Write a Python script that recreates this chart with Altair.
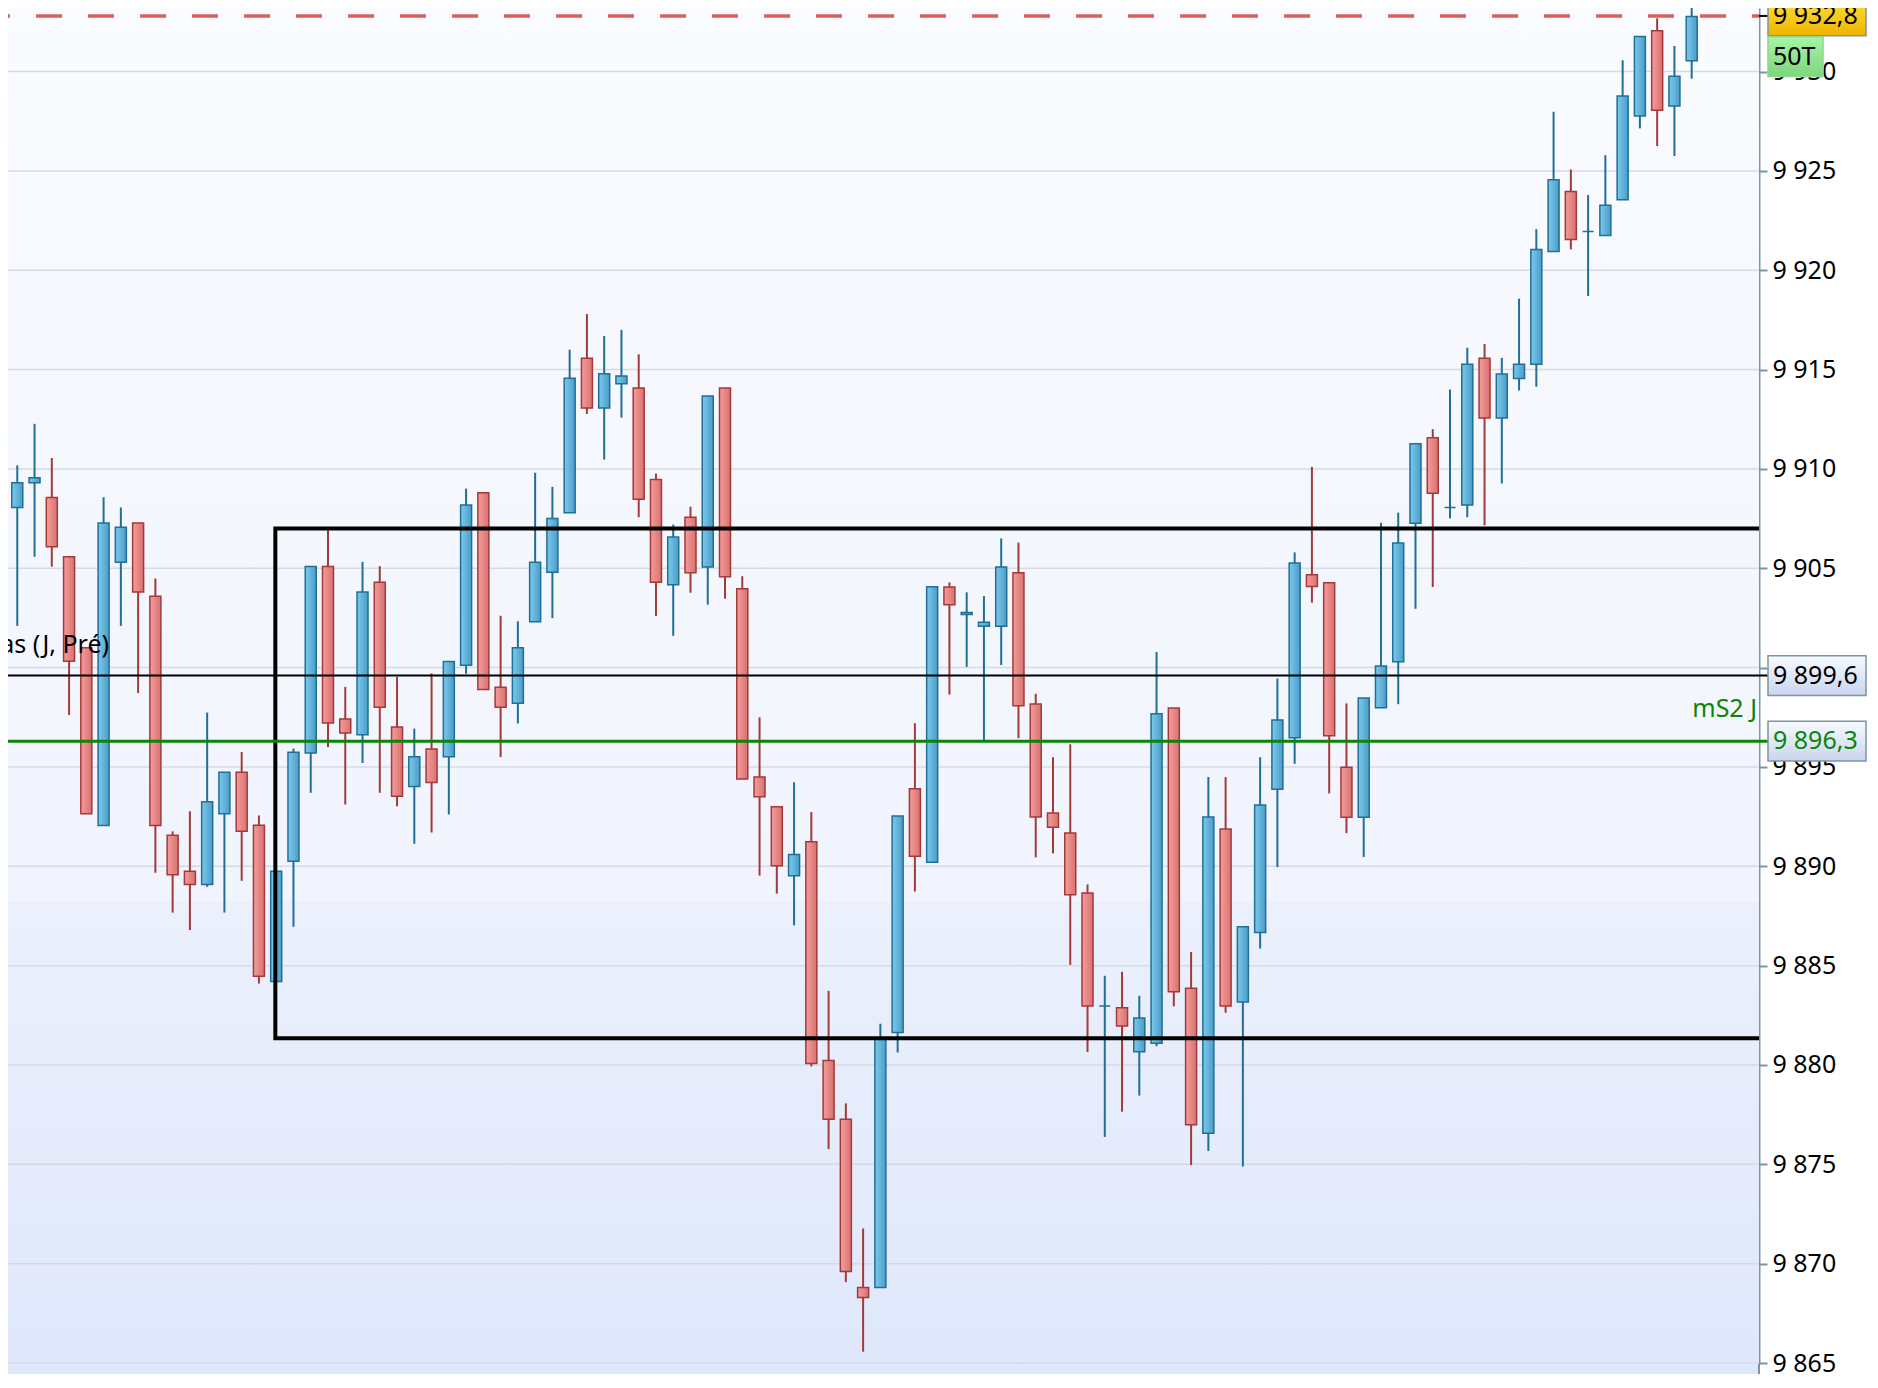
import altair as alt
import pandas as pd

# ---------------- data ----------------
opens = [9897.9, 9908.06, 9909.3, 9908.56, 9905.58, 9901.0, 9892.06, 9905.3, 9907.28, 9903.59,
         9891.56, 9889.75, 9889.08, 9892.65, 9894.74, 9892.06, 9884.2, 9890.25, 9895.7, 9905.09,
         9897.42, 9896.62, 9904.3, 9897.01, 9894.02, 9895.91, 9895.52, 9900.12, 9908.8, 9899.01,
         9898.21, 9902.31, 9904.8, 9907.8, 9915.57, 9913.07, 9914.29, 9914.07, 9909.47, 9904.17,
         9907.57, 9905.07, 9914.07, 9903.97, 9894.5, 9893.0, 9889.53, 9891.23, 9880.23, 9877.27,
         9868.8, 9868.8, 9881.63, 9893.9, 9890.2, 9904.06, 9902.68, 9902.08, 9902.08, 9904.78,
         9898.17, 9892.68, 9891.67, 9888.66, 9882.97, 9882.88, 9880.67, 9881.09, 9897.97, 9883.86,
         9876.56, 9891.88, 9883.17, 9886.67, 9893.88, 9896.47, 9904.67, 9904.27, 9894.98, 9892.47,
         9897.98, 9900.29, 9907.27, 9911.57, 9908.06, 9908.18, 9915.57, 9912.57, 9914.55, 9915.27,
         9920.95, 9923.96, 9921.95, 9921.75, 9923.55, 9927.77, 9932.05, 9928.27, 9930.55]
highs = [9909.5, 9910.18, 9912.27, 9910.55, 9905.58, 9901.0, 9908.58, 9908.06, 9907.28, 9904.49,
         9891.76, 9892.77, 9897.74, 9894.74, 9895.75, 9892.56, 9889.75, 9895.93, 9905.09, 9906.93,
         9899.03, 9905.32, 9905.11, 9899.53, 9896.93, 9899.71, 9900.31, 9909.01, 9908.8, 9902.61,
         9902.33, 9909.81, 9909.1, 9916.0, 9917.8, 9916.69, 9917.0, 9915.77, 9909.77, 9907.2,
         9908.1, 9913.67, 9914.07, 9904.6, 9897.5, 9893.0, 9894.23, 9892.73, 9883.73, 9878.07,
         9871.77, 9882.07, 9892.53, 9897.2, 9904.07, 9904.29, 9903.79, 9903.6, 9906.5, 9906.29,
         9898.68, 9895.49, 9896.14, 9889.09, 9884.49, 9884.69, 9883.48, 9900.78, 9897.97, 9885.69,
         9894.49, 9894.49, 9886.96, 9895.49, 9899.45, 9905.8, 9910.1, 9904.27, 9898.2, 9898.47,
         9907.29, 9907.8, 9911.27, 9912.0, 9914.0, 9916.1, 9916.29, 9915.59, 9918.57, 9922.07,
         9927.98, 9925.07, 9923.79, 9925.79, 9930.57, 9931.77, 9932.68, 9931.29, 9933.2]
lows = [9896.5, 9902.1, 9905.58, 9905.08, 9897.62, 9892.65, 9892.06, 9902.1, 9898.72, 9889.68,
        9887.67, 9886.79, 9888.97, 9887.67, 9889.27, 9884.1, 9884.1, 9886.96, 9893.7, 9896.0,
        9893.11, 9895.2, 9893.7, 9893.02, 9891.13, 9891.7, 9892.61, 9899.69, 9898.9, 9895.5,
        9897.19, 9902.31, 9902.49, 9907.8, 9912.77, 9910.47, 9912.58, 9907.57, 9902.6, 9901.6,
        9903.77, 9903.17, 9903.47, 9894.4, 9889.53, 9888.63, 9887.03, 9879.93, 9875.77, 9869.07,
        9865.57, 9868.8, 9880.63, 9888.73, 9890.2, 9898.64, 9900.04, 9896.34, 9900.13, 9896.45,
        9890.45, 9890.65, 9885.04, 9880.65, 9876.38, 9877.65, 9878.46, 9880.94, 9882.95, 9874.96,
        9875.67, 9882.63, 9874.89, 9885.86, 9889.96, 9895.16, 9903.27, 9893.67, 9891.67, 9890.47,
        9897.98, 9898.16, 9902.96, 9904.06, 9907.51, 9907.57, 9907.16, 9909.27, 9913.95, 9914.14,
        9920.95, 9921.05, 9918.7, 9921.75, 9923.55, 9927.14, 9926.25, 9925.75, 9929.64]
closes = [9908.8, 9909.3, 9909.56, 9906.09, 9900.32, 9892.65, 9907.28, 9907.07, 9903.8, 9892.06,
          9889.57, 9889.08, 9893.25, 9894.74, 9891.76, 9884.46, 9889.75, 9895.74, 9905.09, 9897.21,
          9896.71, 9903.81, 9898.01, 9893.52, 9895.52, 9894.22, 9900.31, 9908.19, 9898.9, 9898.01,
          9901.0, 9905.3, 9907.5, 9914.57, 9913.07, 9914.79, 9914.68, 9908.47, 9904.3, 9906.57,
          9904.77, 9913.67, 9904.57, 9894.4, 9893.5, 9890.03, 9890.6, 9880.07, 9877.27, 9869.6,
          9868.3, 9881.33, 9892.53, 9890.5, 9904.07, 9903.17, 9902.77, 9902.28, 9905.07, 9898.08,
          9892.48, 9891.96, 9888.57, 9882.97, 9882.97, 9881.96, 9882.37, 9897.68, 9883.68, 9876.99,
          9892.48, 9882.97, 9886.96, 9893.08, 9897.37, 9905.27, 9904.08, 9896.57, 9892.47, 9898.47,
          9900.08, 9906.27, 9911.27, 9908.78, 9908.06, 9915.27, 9912.57, 9914.78, 9915.27, 9921.05,
          9924.55, 9921.55, 9921.95, 9923.27, 9928.77, 9931.77, 9928.05, 9929.77, 9932.77]

y_ticks = [9865, 9870, 9875, 9880, 9885, 9890, 9895, 9900, 9905, 9910, 9915, 9920, 9925, 9930]

last_price = 9932.8
last_label = "9 932,8"
timeframe_label = "50T"
plus_bas_value = 9899.6
plus_bas_label = "9 899,6"
plus_bas_text = "Plus Bas (J, Pré)"
ms2_value = 9896.3
ms2_label = "9 896,3"
ms2_text = "mS2 J"
range_left_idx = 15.95
range_top = 9907.0
range_bottom = 9881.35
session_split = 9888.2

# ---------------- layout ----------------
W, H = 1751, 1356
Y_MIN, Y_MAX = 9864.95, 9933.2
X_MIN, X_MAX = 0.752, 101.61
FONT = "Noto Sans"
BLUE_EDGE, RED_EDGE = "#1f6f96", "#a33a3a"
AXIS_COL = "#7d95a3"
GREEN = "#0a850a"

df = pd.DataFrame({"i": list(range(len(opens))), "open": opens, "high": highs,
                   "low": lows, "close": closes})
df["dir"] = ["up" if c >= o else "down" for o, c in zip(opens, closes)]

xs = alt.Scale(domain=[X_MIN, X_MAX], zero=False, nice=False)
ys = alt.Scale(domain=[Y_MIN, Y_MAX], zero=False, nice=False)
X = alt.X("i:Q", scale=xs, axis=None)

yaxis = alt.Axis(orient="right", values=y_ticks, title=None, grid=False,
                 domainColor=AXIS_COL, domainWidth=2,
                 tickColor=AXIS_COL, tickWidth=2, tickSize=8,
                 labelPadding=5, labelFont=FONT, labelFontSize=25, labelColor="#000000",
                 labelOverlap=False, labelBound=False,
                 labelExpr="replace(format(datum.value, ','), ',', ' ')")


def grad(c1, c2, horizontal=True):
    return alt.LinearGradient(
        gradient="linear",
        stops=[alt.GradientStop(color=c1, offset=0), alt.GradientStop(color=c2, offset=1)],
        x1=0, x2=1 if horizontal else 0, y1=0, y2=0 if horizontal else 1)


# background (two session bands) and grid
bg_top = pd.DataFrame({"top": [Y_MAX], "bot": [session_split]})
bg_bot = pd.DataFrame({"top": [session_split], "bot": [Y_MIN - 1.0]})
bg1 = alt.Chart(bg_top).mark_rect(fill=grad("#fafbff", "#f1f4fd", horizontal=False)).encode(
    x=alt.value(0), x2=alt.value(W), y=alt.Y("top:Q", scale=ys, axis=yaxis), y2="bot:Q")
bg2 = alt.Chart(bg_bot).mark_rect(fill=grad("#ebf0fc", "#dfe7fb", horizontal=False)).encode(
    x=alt.value(0), x2=alt.value(W), y=alt.Y("top:Q", scale=ys), y2="bot:Q")
grid_df = pd.DataFrame({"v": y_ticks})
grid = alt.Chart(grid_df).mark_rule(color="#d6dae6", strokeWidth=1.5).encode(
    x=alt.value(0), x2=alt.value(W), y=alt.Y("v:Q", scale=ys))
axis_ext_df = pd.DataFrame({"a": [Y_MIN], "b": [Y_MIN - 1.0]})
axis_ext = alt.Chart(axis_ext_df).mark_rule(color=AXIS_COL, strokeWidth=2).encode(
    x=alt.value(W), y=alt.Y("a:Q", scale=ys), y2="b:Q")

wicks = alt.Chart(df).mark_rule(strokeWidth=2, clip=True).encode(
    x=X,
    y=alt.Y("low:Q", scale=ys),
    y2="high:Q",
    color=alt.Color("dir:N", scale=alt.Scale(domain=["up", "down"], range=[BLUE_EDGE, RED_EDGE]),
                    legend=None),
)

body_up = alt.Chart(df).transform_filter(alt.datum.dir == "up").mark_bar(
    size=11, fill=grad("#7cc9ec", "#4a9dc8"), stroke=BLUE_EDGE, strokeWidth=1.5, clip=True
).encode(x=X, y=alt.Y("open:Q", scale=ys), y2="close:Q")

body_down = alt.Chart(df).transform_filter(alt.datum.dir == "down").mark_bar(
    size=11, fill=grad("#f49d9b", "#d97171"), stroke=RED_EDGE, strokeWidth=1.5, clip=True
).encode(x=X, y=alt.Y("open:Q", scale=ys), y2="close:Q")

# range box
box_df = pd.DataFrame({"x0": [range_left_idx], "x1": [X_MAX + 10], "top": [range_top],
                       "bot": [range_bottom]})
box = alt.Chart(box_df).mark_rect(fill="transparent", stroke="#000000", strokeWidth=4,
                                  clip=True).encode(
    x=alt.X("x0:Q", scale=xs, axis=None), x2="x1:Q",
    y=alt.Y("top:Q", scale=ys), y2="bot:Q")

# horizontal levels
lvl_df = pd.DataFrame({"v": [plus_bas_value]})
black_line = alt.Chart(lvl_df).mark_rule(color="#000000", strokeWidth=2).encode(
    x=alt.value(0), x2=alt.value(1760), y=alt.Y("v:Q", scale=ys))
green_df = pd.DataFrame({"v": [ms2_value]})
green_line = alt.Chart(green_df).mark_rule(color=GREEN, strokeWidth=3).encode(
    x=alt.value(0), x2=alt.value(1760), y=alt.Y("v:Q", scale=ys))
last_df = pd.DataFrame({"v": [last_price]})
dashed = alt.Chart(last_df).mark_rule(color="#d9605c", strokeWidth=3.5, strokeDash=[26, 26],
                                      strokeDashOffset=24).encode(
    x=alt.value(0), x2=alt.value(W), y=alt.Y("v:Q", scale=ys))
dash_tick = alt.Chart(last_df).mark_rule(color="#000000", strokeWidth=2).encode(
    x=alt.value(W), x2=alt.value(1760), y=alt.Y("v:Q", scale=ys))

# in-plot labels
pb_df = pd.DataFrame({"v": [9900.75], "t": [plus_bas_text]})
pb_text = alt.Chart(pb_df).mark_text(align="right", baseline="alphabetic", font=FONT,
                                     fontSize=25, color="#000000", clip=True).encode(
    x=alt.value(101), y=alt.Y("v:Q", scale=ys), text="t:N")
ms_df = pd.DataFrame({"v": [9897.5], "t": [ms2_text]})
ms_text = alt.Chart(ms_df).mark_text(align="right", baseline="alphabetic", font=FONT,
                                     fontSize=25, color=GREEN).encode(
    x=alt.value(1749), y=alt.Y("v:Q", scale=ys), text="t:N")


def tag(value, label, fill, text_color, stroke, x0=1760, x1=1858, top=None, bot=None):
    d = pd.DataFrame({"v": [value if top is None else (top + bot) / 2],
                      "top": [value + 1.0 if top is None else top],
                      "bot": [value - 1.0 if bot is None else bot], "t": [label]})
    r = alt.Chart(d).mark_rect(fill=fill, stroke=stroke, strokeWidth=1.5).encode(
        x=alt.value(x0), x2=alt.value(x1), y=alt.Y("top:Q", scale=ys), y2="bot:Q")
    t = alt.Chart(d).mark_text(align="left", baseline="middle", font=FONT, fontSize=25,
                               color=text_color).encode(
        x=alt.value(x0 + 5), y=alt.Y("v:Q", scale=ys), text="t:N")
    return [r, t]


tags = []
tags += tag(last_price, last_label, grad("#ffe43d", "#f0b300", horizontal=False), "#000000", AXIS_COL)
tags += tag(0, timeframe_label, grad("#a8f4a8", "#7dd67d", horizontal=False), "#000000", "#8cd88c",
            x0=1760, x1=1815, top=9931.75, bot=9929.75)
tags += tag(plus_bas_value, plus_bas_label, grad("#f8faff", "#c9d5ee", horizontal=False),
            "#000000", AXIS_COL)
tags += tag(ms2_value, ms2_label, grad("#f8faff", "#c9d5ee", horizontal=False), GREEN, AXIS_COL)

chart = alt.layer(
    bg1, bg2, grid, axis_ext, wicks, body_up, body_down, box, black_line, green_line, dashed,
    dash_tick, pb_text, ms_text, *tags
).properties(
    width=W, height=H,
    autosize=alt.AutoSizeParams(type="none"),
    padding={"left": 0, "top": 0, "right": 110, "bottom": 10},
).configure(background="#ffffff").configure_view(strokeWidth=0)

chart.save("out.html", embed_options={"renderer": "svg", "actions": False})
